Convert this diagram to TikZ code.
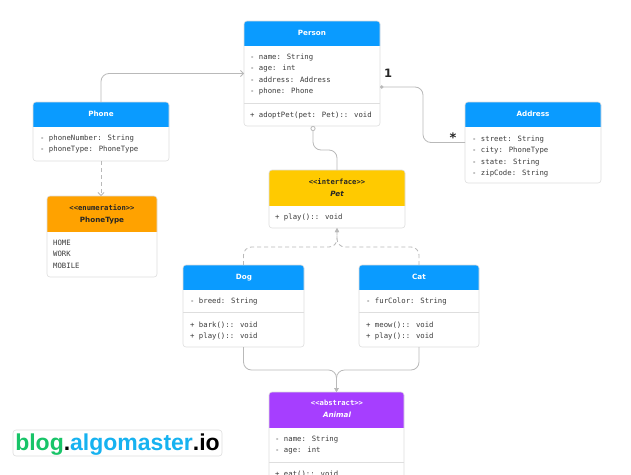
\documentclass[tikz,border=0pt]{standalone}
\usepackage{fontspec}
\setmainfont{DejaVu Sans}
\newfontfamily\monof{DejaVu Sans Mono}
\newfontfamily\logof{Liberation Sans}
\usetikzlibrary{arrows.meta,calc}
\definecolor{hblue}{RGB}{10,155,255}
\definecolor{horange}{RGB}{255,162,0}
\definecolor{hyellow}{RGB}{255,202,0}
\definecolor{hpurple}{RGB}{166,62,255}
\definecolor{bordg}{RGB}{222,222,222}
\definecolor{lineg}{RGB}{185,185,185}
\definecolor{txtg}{RGB}{60,60,60}
\definecolor{logogreen}{RGB}{24,196,104}
\definecolor{logoblue}{RGB}{22,178,240}
\tikzset{
  clsnode/.style={inner sep=0pt, outer sep=0pt},
  mem/.style={anchor=west, inner sep=0pt, font=\monof\fontsize{7.3}{8}\selectfont, text=txtg, text height=5.2pt, text depth=0pt},
  ttl/.style={inner sep=0pt, font=\fontsize{7.2}{8}\selectfont\bfseries, text height=5.2pt, text depth=0pt},
  stereo/.style={inner sep=0pt, font=\monof\fontsize{7.2}{8}\selectfont\bfseries, text height=5.2pt, text depth=0pt},
  conn/.style={draw=lineg, line width=0.8pt, rounded corners=8pt},
  divl/.style={draw=bordg, line width=0.6pt},
  lbl/.style={inner sep=0pt, font=\fontsize{11.5}{12}\selectfont\bfseries, text=black!85},
}
% name, x1, y1, x2, y2, yheader, colour
\newcommand\umlcls[7]{%
  \node[clsnode, minimum width={#4-#2}, minimum height={#5-#3}] (#1) at ({(#2+#4)/2},{(#3+#5)/2}) {};
  \fill[white, rounded corners=3pt] (#1.north west) rectangle (#1.south east);
  \begin{scope}
    \clip (#2,#3) rectangle (#4,#6);
    \fill[#7, rounded corners=3pt] (#1.north west) rectangle (#1.south east);
  \end{scope}
  \draw[bordg, line width=0.6pt, rounded corners=3pt] (#1.north west) rectangle (#1.south east);
}
\begin{document}
\begin{tikzpicture}[x=1pt,y=-1pt]
\clip (0,0) rectangle (631,474);
\fill[white] (0,0) rectangle (631,474);

% ---------- classes ----------
\umlcls{person}{244}{21}{380}{126}{45}{hblue}
\draw[divl] (244,103) -- (380,103);
\node[ttl, text=white] (persont) at (312,33) {Person};
\node[mem] (p1) at (250,57) {- name: String};
\node[mem] (p2) at (250,68.3) {- age: int};
\node[mem] (p3) at (250,79.6) {- address: Address};
\node[mem] (p4) at (250,91) {- phone: Phone};
\node[mem] (p5) at (250,114.5) {+ adoptPet(pet: Pet):: void};

\umlcls{phone}{33}{102}{169}{161}{126}{hblue}
\node[ttl, text=white] (phonet) at (101,114) {Phone};
\node[mem] (ph1) at (40,138) {- phoneNumber: String};
\node[mem] (ph2) at (40,149.3) {- phoneType: PhoneType};

\umlcls{phonetype}{47}{196}{157}{277}{231}{horange}
\node[stereo, text=black!85] (ptt1) at (102,208) {<<enumeration>>};
\node[ttl, text=black!85] (ptt2) at (102,219.5) {PhoneType};
\node[mem] (pt1) at (53,243) {HOME};
\node[mem] (pt2) at (53,254.3) {WORK};
\node[mem] (pt3) at (53,265.6) {MOBILE};

\umlcls{address}{465}{102}{601}{183}{126}{hblue}
\node[ttl, text=white] (addresst) at (533,114) {Address};
\node[mem] (a1) at (472,139) {- street: String};
\node[mem] (a2) at (472,150.3) {- city: PhoneType};
\node[mem] (a3) at (472,161.6) {- state: String};
\node[mem] (a4) at (472,173) {- zipCode: String};

\umlcls{pet}{269}{170}{405}{228}{205}{hyellow}
\node[stereo, text=black!85] (pett1) at (337,182) {<<interface>>};
\node[ttl, text=black!85, font=\fontsize{7.2}{8}\selectfont\bfseries\itshape] (pett2) at (337,193.5) {Pet};
\node[mem] (pe1) at (275,217) {+ play():: void};

\umlcls{dog}{183}{265}{304}{347}{289}{hblue}
\draw[divl] (183,312) -- (304,312);
\node[ttl, text=white] (dogt) at (244,277) {Dog};
\node[mem] (d1) at (190,301) {- breed: String};
\node[mem] (d2) at (190,325) {+ bark():: void};
\node[mem] (d3) at (190,336.3) {+ play():: void};

\umlcls{cat}{359}{265}{479}{347}{289}{hblue}
\draw[divl] (359,312) -- (479,312);
\node[ttl, text=white] (catt) at (419,277) {Cat};
\node[mem] (c1) at (366,301) {- furColor: String};
\node[mem] (c2) at (366,325) {+ meow():: void};
\node[mem] (c3) at (366,336.3) {+ play():: void};

\umlcls{animal}{269}{392}{404}{496}{427}{hpurple}
\draw[divl] (269,462) -- (404,462);
\node[stereo, text=white] (animalt1) at (337,403) {<<abstract>>};
\node[ttl, text=white, font=\fontsize{7.2}{8}\selectfont\bfseries\itshape] (animalt2) at (337,415) {Animal};
\node[mem] (an1) at (275,439) {- name: String};
\node[mem] (an2) at (275,450.3) {- age: int};
\node[mem] (an3) at (275,473.5) {+ eat():: void};

% ---------- connectors ----------
\draw[conn, -{Straight Barb[length=3pt,width=6pt]}] (phone.north) |- (person.west);
\draw[conn, dash pattern=on 4pt off 3pt, -{Straight Barb[length=3pt,width=6pt]}] (phone.south) -- (phone.south |- phonetype.north);
\draw[conn, {Circle[length=3.5pt,width=3.5pt]}-] ([yshift=-13.5pt]person.east) -- ++(43,0) |- (address.west);
\node[lbl] (one) at (388,73.5) {1};
\node[lbl, font=\fontsize{13}{13}\selectfont\bfseries] (star) at (453,138) {*};
\draw[conn, -{Circle[open,length=5pt,width=5pt,fill=white]}] (pet.north) -- ++(0,-20) -| ([xshift=1pt]person.south);
\draw[conn, dash pattern=on 4pt off 3pt, -{Triangle[length=4pt,width=4pt]}] (dog.north) -- ++(0,-18) -| (pet.south);
\draw[conn, dash pattern=on 4pt off 3pt, -{Triangle[length=4pt,width=4pt]}] (cat.north) -- ++(0,-18) -| (pet.south);
\draw[conn, -{Triangle[length=4pt,width=4.5pt]}] (dog.south) -- ++(0,23) -| (animal.north);
\draw[conn, -{Triangle[length=4pt,width=4.5pt]}] (cat.south) -- ++(0,23) -| (animal.north);

% ---------- logo ----------
\node[draw=bordg, line width=0.6pt, rounded corners=3pt, minimum width=209pt, minimum height=26pt, inner sep=0pt] (logobox) at (117.5,443) {};
\node[anchor=base, inner sep=0pt, font=\logof\fontsize{23}{26}\selectfont\bfseries] (logotext) at (117.5,450)
  {\textcolor{logogreen}{blog}.\textcolor{logoblue}{algomaster}.io};
\end{tikzpicture}
\end{document}
